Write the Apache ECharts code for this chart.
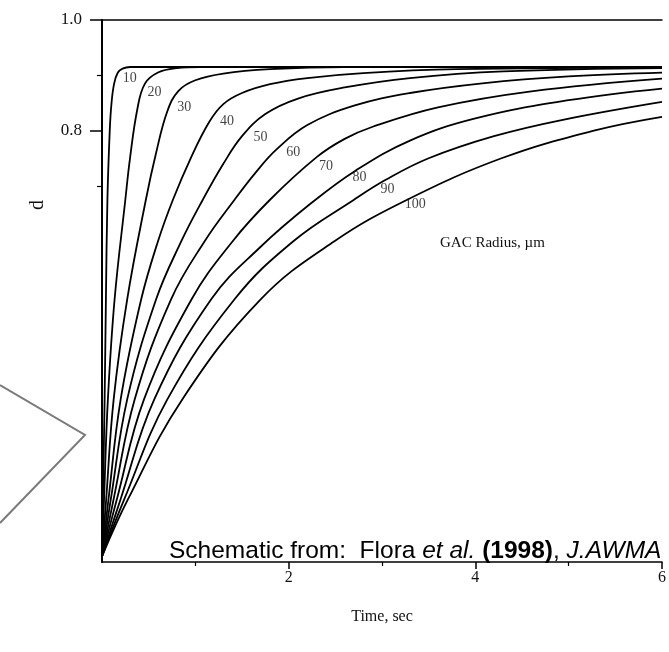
<!DOCTYPE html>
<html>
<head>
<meta charset="utf-8">
<script src="https://cdn.jsdelivr.net/npm/echarts@6/dist/echarts.min.js"></script>
<style>
html,body{margin:0;padding:0;background:#fff;}
#c{width:669px;height:652px;}
</style>
</head>
<body>
<div id="c"></div>
<script>
// ---- data: [time (s), d] ----
const radii = [10, 20, 30, 40, 50, 60, 70, 80, 90, 100];
const r10  = [[0,.03],[.01,.134],[.028,.314],[.042,.495],[.058,.675],[.083,.8],[.102,.85],[.13,.885],[.17,.905],[.22,.912],[.3,.915],[6,.915]];
const r20  = [[0,.03],[.022,.134],[.063,.314],[.135,.495],[.25,.675],[.3,.75],[.38,.84],[.46,.885],[.6,.905],[.8,.913],[1.05,.915],[6,.915]];
const r30  = [[0,.03],[.045,.134],[.125,.314],[.27,.495],[.47,.675],[.58,.76],[.7,.835],[.82,.872],[1.0,.891],[1.3,.903],[1.8,.911],[2.6,.915],[6,.915]];
const r40  = [[0,.03],[.07,.134],[.2,.314],[.42,.495],[.6,.6],[.76,.675],[.95,.75],[1.15,.816],[1.3,.848],[1.5,.868],[1.8,.884],[2.2,.895],[2.8,.904],[3.8,.911],[6,.914]];
const r50  = [[0,.03],[.095,.134],[.27,.314],[.58,.495],[.85,.6],[1.08,.675],[1.3,.74],[1.5,.79],[1.75,.83],[2.1,.858],[2.6,.878],[3.3,.895],[4.3,.907],[6,.913]];
const r60  = [[0,.03],[.125,.134],[.35,.314],[.74,.495],[1.1,.6],[1.42,.675],[1.65,.725],[1.87,.766],[2.2,.81],[2.7,.845],[3.3,.868],[4.1,.886],[5.0,.898],[6,.905]];
const r70  = [[0,.03],[.16,.134],[.45,.314],[.96,.495],[1.4,.6],[1.8,.675],[2.3,.752],[2.6,.785],[2.9,.807],[3.6,.842],[4.6,.871],[6,.894]];
const r80  = [[0,.03],[.2,.134],[.56,.314],[1.17,.495],[1.7,.59],[2.25,.67],[2.72,.728],[3.3,.782],[4.0,.822],[5.0,.855],[6,.876]];
const r90  = [[0,.03],[.24,.134],[.7,.314],[1.42,.495],[2.05,.6],[2.7,.675],[3.04,.711],[3.5,.75],[4.2,.79],[4.95,.82],[6,.852]];
const r100 = [[0,.03],[.28,.134],[.86,.314],[1.7,.495],[2.49,.6],[3.27,.675],[4.28,.75],[5.27,.8],[6,.825]];
const curves = [r10, r20, r30, r40, r50, r60, r70, r80, r90, r100];

const xTickLabels = [2, 4, 6];
const xMinorTicks = [1, 3, 5];
const yTickLabels = [0.8, 1.0];
const yMinorTicks = [0.7, 0.9];

// layout: where each radius label sits (time, d)
const labelSpots = [[0.297,0.895],[0.563,0.870],[0.881,0.843],[1.338,0.816],[1.699,0.787],[2.05,0.761],[2.4,0.736],[2.76,0.716],[3.06,0.693],[3.356,0.666]];

const serif = '"Liberation Serif","DejaVu Serif",serif';
const sans = '"Liberation Sans",Arial,sans-serif';

const chart = echarts.init(document.getElementById('c'), null, {renderer: 'canvas'});

const lineSeries = curves.map((d, i) => ({
  type: 'line',
  name: String(radii[i]),
  data: d,
  xAxisIndex: 0, yAxisIndex: 0,
  showSymbol: false, symbol: 'none',
  smooth: 0.4,
  lineStyle: {color: '#000', width: 1.8},
  silent: true,
  z: 3
}));

lineSeries[0].markLine = {
  silent: true, symbol: 'none', animation: false,
  label: {show: false},
  lineStyle: {color: '#000', width: 1.6, type: 'solid'},
  data: [[{coord: [0, 0.67]}, {coord: [0, 1]}]]
};

const labelSeries = {
  type: 'scatter',
  data: labelSpots.map((p, i) => ({value: p, name: String(radii[i])})),
  symbolSize: 0,
  silent: true,
  label: {
    show: true, position: 'inside',
    formatter: p => p.name,
    fontFamily: serif, fontSize: 14, color: '#111'
  },
  z: 4
};

const option = {
  animation: false,
  backgroundColor: '#fff',
  grid: {left: 102, right: 2, top: 20, bottom: 90, containLabel: false},
  xAxis: [
    {
      type: 'value', min: 0, max: 6, interval: 2, position: 'bottom',
      axisLine: {show: true, lineStyle: {color: '#000', width: 1.5}},
      axisTick: {show: true, customValues: xTickLabels, length: 7, lineStyle: {color: '#000', width: 1.5}},
      axisLabel: {show: true, customValues: xTickLabels, margin: 8, fontFamily: serif, fontSize: 16, color: '#111'},
      splitLine: {show: false},
      name: 'Time, sec', nameLocation: 'middle', nameGap: 47,
      nameTextStyle: {fontFamily: serif, fontSize: 16, color: '#111'}
    },
    {
      type: 'value', min: 0, max: 6, position: 'bottom',
      axisLine: {show: false},
      axisTick: {show: true, customValues: xMinorTicks, length: 4, lineStyle: {color: '#000', width: 1.2}},
      axisLabel: {show: false}, splitLine: {show: false}
    },
    {
      type: 'value', min: 0, max: 6, position: 'top',
      axisLine: {show: true, lineStyle: {color: '#000', width: 1.5}},
      axisTick: {show: false}, axisLabel: {show: false}, splitLine: {show: false}
    }
  ],
  yAxis: [
    {
      type: 'value', min: 0.02, max: 1, position: 'left',
      axisLine: {show: false},
      axisTick: {show: true, customValues: yTickLabels, length: 12, lineStyle: {color: '#000', width: 1.5}},
      axisLabel: {show: true, customValues: yTickLabels, margin: 20, formatter: v => v.toFixed(1), fontFamily: serif, fontSize: 17, color: '#111'},
      splitLine: {show: false}
    },
    {
      type: 'value', min: 0.02, max: 1, position: 'left',
      axisLine: {show: false},
      axisTick: {show: true, customValues: yMinorTicks, length: 5, lineStyle: {color: '#000', width: 1.2}},
      axisLabel: {show: false}, splitLine: {show: false}
    },
    {
      type: 'value', min: 0.02, max: 1, position: 'right',
      axisLine: {show: true, lineStyle: {color: '#000', width: 2}},
      axisTick: {show: false}, axisLabel: {show: false}, splitLine: {show: false}
    }
  ],
  series: [...lineSeries, labelSeries],
  graphic: [
    {
      type: 'polyline', silent: true,
      shape: {points: [[0, 385], [85, 435], [0, 523]]},
      style: {stroke: '#7a7a7a', lineWidth: 2, fill: null}
    },
    {
      type: 'text', silent: true, x: 38, y: 205, rotation: Math.PI / 2,
      style: {text: 'd', fontFamily: serif, fontSize: 20, fill: '#111', align: 'center', verticalAlign: 'middle'}
    },
    {
      type: 'text', silent: true, x: 440, y: 243,
      style: {text: 'GAC Radius, \u00b5m', fontFamily: serif, fontSize: 15, fill: '#111', verticalAlign: 'middle'}
    },
    {
      type: 'text', silent: true, x: 169, y: 551,
      style: {
        text: '{a|Schematic from:  Flora }{i|et al.}{a| }{b|(1998)}{a|, }{i|J.AWMA}',
        verticalAlign: 'middle',
        rich: {
          a: {fontFamily: sans, fontSize: 24.5, fill: '#000', color: '#000'},
          i: {fontFamily: sans, fontSize: 24.5, fontStyle: 'italic', fill: '#000', color: '#000'},
          b: {fontFamily: sans, fontSize: 24.5, fontWeight: 'bold', fill: '#000', color: '#000'}
        }
      }
    }
  ]
};
chart.setOption(option);
</script>
</body>
</html>
